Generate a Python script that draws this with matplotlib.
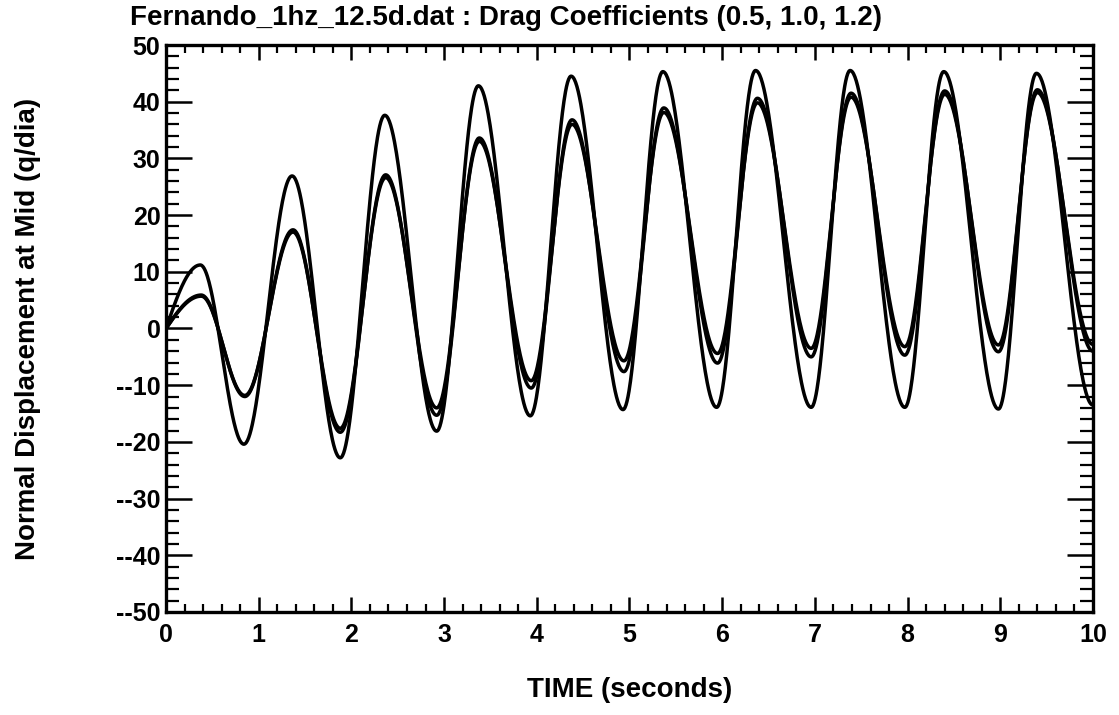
import numpy as np
import matplotlib
matplotlib.use("Agg")
import matplotlib.pyplot as plt
from matplotlib.ticker import MultipleLocator

# Turning points (time [s], normal displacement [q/dia]) of each response history
t_cd05 = [0.0, 0.37, 0.84, 1.36, 1.88, 2.36, 2.92, 3.37, 3.93, 4.37, 4.93,
          5.36, 5.94, 6.36, 6.96, 7.38, 7.97, 8.39, 8.98, 9.39, 10.0]
y_cd05 = [0.0, 11.2, -20.4, 26.9, -22.8, 37.6, -18.1, 42.8, -15.4, 44.5, -14.3,
          45.3, -13.9, 45.5, -13.9, 45.5, -13.9, 45.3, -14.2, 45.0, -13.5]

t_cd10 = [0.0, 0.38, 0.85, 1.37, 1.88, 2.37, 2.92, 3.38, 3.94, 4.38, 4.94,
          5.37, 5.95, 6.38, 6.96, 7.39, 7.97, 8.40, 8.98, 9.40, 10.0]
y_cd10 = [0.0, 5.9, -12.0, 17.4, -18.3, 27.1, -15.3, 33.6, -10.5, 36.8, -7.6,
          38.9, -6.1, 40.6, -5.0, 41.5, -4.7, 41.9, -4.1, 42.1, -4.0]

t_cd12 = [0.0, 0.38, 0.85, 1.37, 1.88, 2.37, 2.92, 3.38, 3.94, 4.38, 4.94,
          5.37, 5.95, 6.38, 6.96, 7.39, 7.97, 8.40, 8.98, 9.40, 10.0]
y_cd12 = [0.0, 5.7, -11.8, 17.0, -17.6, 26.6, -14.0, 33.0, -9.2, 36.0, -5.7,
          38.1, -4.4, 39.8, -3.5, 40.8, -3.2, 41.3, -2.9, 41.6, -2.8]

x_ticks = [0, 1, 2, 3, 4, 5, 6, 7, 8, 9, 10]
x_tick_labels = ['0', '1', '2', '3', '4', '5', '6', '7', '8', '9', '10']
y_ticks = [-50, -40, -30, -20, -10, 0, 10, 20, 30, 40, 50]
y_tick_labels = ['--50', '--40', '--30', '--20', '--10', '0',
                 '10', '20', '30', '40', '50']

title = 'Fernando_1hz_12.5d.dat : Drag Coefficients (0.5, 1.0, 1.2)'
x_label = 'TIME (seconds)'
y_label = 'Normal Displacement at Mid (q/dia)'


def swing(tp, yp, n=80):
    """Join successive turning points with smooth half-wave swings."""
    ts, ys = [], []
    for i in range(len(tp) - 1):
        u = np.linspace(0.0, 1.0, n, endpoint=False)
        if i == 0:
            shape = np.sin(0.5 * np.pi * u)       # motion starts from rest position
        else:
            shape = 0.5 * (1.0 - np.cos(np.pi * u))
        ts.append(tp[i] + (tp[i + 1] - tp[i]) * u)
        ys.append(yp[i] + (yp[i + 1] - yp[i]) * shape)
    ts.append([tp[-1]])
    ys.append([yp[-1]])
    return np.concatenate(ts), np.concatenate(ys)


plt.rcParams['font.family'] = ['Liberation Sans', 'DejaVu Sans']
plt.rcParams['font.weight'] = 'bold'

fig = plt.figure(figsize=(11.19, 7.15), dpi=100)
ax = fig.add_axes([0.14835, 0.14406, 0.82841, 0.79300])

for tp, yp in ((t_cd05, y_cd05), (t_cd10, y_cd10), (t_cd12, y_cd12)):
    tt, yy = swing(tp, yp)
    ax.plot(tt, yy, color='black', lw=2.5, solid_capstyle='round',
            solid_joinstyle='round')

ax.set_xlim(0, 10)
ax.set_ylim(-50, 50)
ax.set_xticks(x_ticks, labels=x_tick_labels)
ax.set_yticks(y_ticks, labels=y_tick_labels)
ax.xaxis.set_minor_locator(MultipleLocator(0.2))
ax.yaxis.set_minor_locator(MultipleLocator(2))

for side in ax.spines.values():
    side.set_linewidth(2.4)

ax.tick_params(axis='x', which='major', direction='in', length=10.8, width=1.8,
               top=True, bottom=True, labelsize=18, pad=8)
ax.tick_params(axis='x', which='minor', direction='in', length=5.8, width=1.6,
               top=True, bottom=True)
ax.tick_params(axis='y', which='major', direction='in', length=18.7, width=1.8,
               left=True, right=True, labelsize=18, pad=4)
ax.tick_params(axis='y', which='minor', direction='in', length=9.4, width=1.6,
               left=True, right=True)
for lab in ax.get_xticklabels() + ax.get_yticklabels():
    lab.set_fontweight('bold')

fig.text(130 / 1119, 1 - 25 / 715, title, ha='left', va='baseline',
         fontsize=20, fontweight='bold')
fig.text(0.5 * (0.14835 + 0.97676), 1 - 690 / 715, x_label, ha='center',
         va='center', fontsize=20, fontweight='bold')
fig.text(28 / 1119, 0.5 * (0.14406 + 0.93706), y_label, ha='center',
         va='center', rotation=90, fontsize=20, fontweight='bold')

fig.savefig('out.png', dpi=100)
